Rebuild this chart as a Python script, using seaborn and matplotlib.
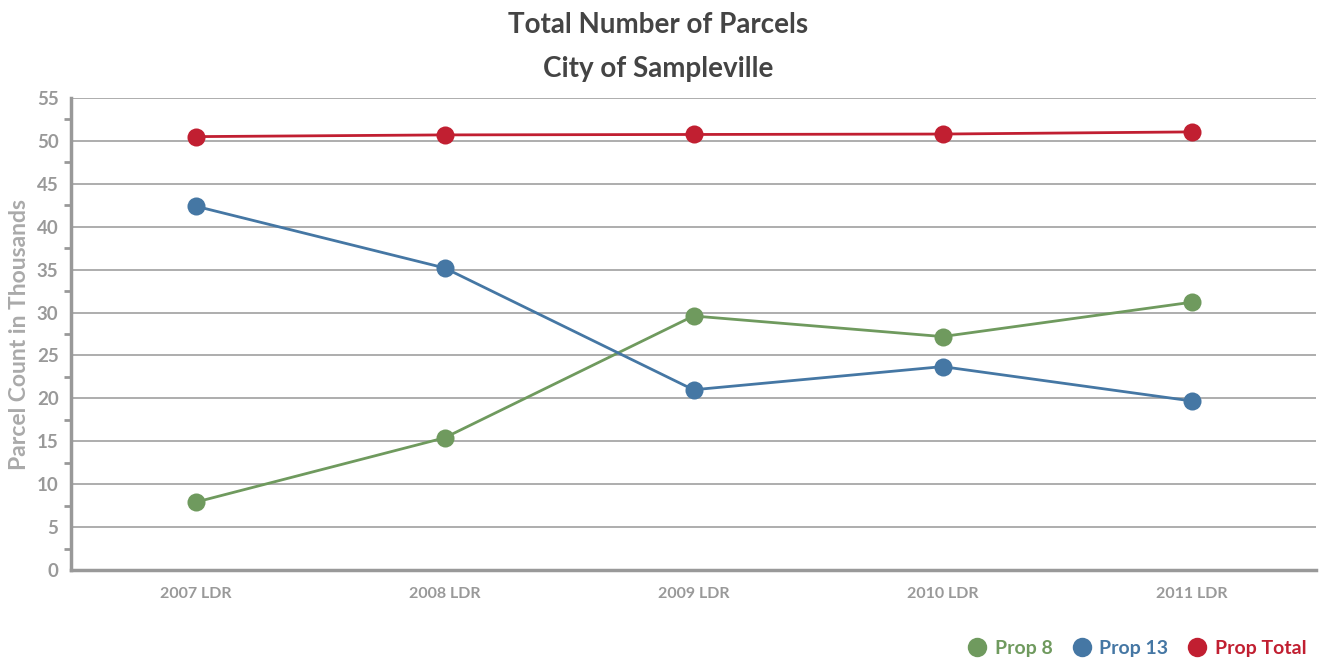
import matplotlib
matplotlib.use("Agg")
import matplotlib.pyplot as plt
from matplotlib.lines import Line2D
from matplotlib.ticker import MultipleLocator
import seaborn as sns
import pandas as pd

years = ["2007 LDR", "2008 LDR", "2009 LDR", "2010 LDR", "2011 LDR"]
prop_8 = [7.9, 15.4, 29.6, 27.2, 31.2]
prop_13 = [42.4, 35.2, 21.0, 23.7, 19.7]
prop_total = [50.5, 50.7, 50.75, 50.8, 51.05]

series_names = ["Prop 8", "Prop 13", "Prop Total"]
colors = ["#6f9a5e", "#4577a4", "#c11f31"]

rows = []
for name, vals in zip(series_names, [prop_8, prop_13, prop_total]):
    for i, v in enumerate(vals):
        rows.append({"pos": i, "year": years[i], "series": name, "value": v})
df = pd.DataFrame(rows)

sns.set_style("white")
plt.rcParams["font.family"] = ["Lato", "DejaVu Sans"]

grey = "#999999"
fig = plt.figure(figsize=(13.24, 6.58), dpi=100)
ax = fig.add_axes([71 / 1324, 88 / 658, 1245 / 1324, 472 / 658])

sns.lineplot(data=df, x="pos", y="value", hue="series", palette=colors,
             marker="o", markersize=13, markeredgewidth=0, linewidth=2,
             legend=False, ax=ax, zorder=3)

ax.set_xlim(-0.5, 4.5)
ax.set_ylim(0, 55)
ax.set_xticks(range(len(years)))
ax.set_xticklabels(years, fontsize=11.5, color=grey, fontweight="bold")
ax.yaxis.set_major_locator(MultipleLocator(5))
ax.yaxis.set_minor_locator(MultipleLocator(2.5))
ax.tick_params(axis="y", which="major", length=8, width=2, color=grey,
               labelsize=13.5, labelcolor=grey, pad=1)
ax.tick_params(axis="y", which="minor", length=5, width=2, color=grey, left=True)
ax.tick_params(axis="x", length=8, width=2, color=grey, pad=4)
for lbl in ax.get_yticklabels():
    lbl.set_fontweight("bold")
ax.grid(axis="y", color="#a0a0a0", linewidth=1.2, zorder=0)
ax.set_axisbelow(True)
for side in ["top", "right"]:
    ax.spines[side].set_visible(False)
for side in ["left", "bottom"]:
    ax.spines[side].set_color(grey)
    ax.spines[side].set_linewidth(2.5)

ax.set_xlabel("")
ax.set_ylabel("Parcel Count in Thousands", fontsize=16.5, color="#aaaaaa",
              fontweight="bold", labelpad=5)

fig.text(0.497, 0.962, "Total Number of Parcels", ha="center", va="center",
         fontsize=20, fontweight="bold", color="#444444")
fig.text(0.497, 0.895, "City of Sampleville", ha="center", va="center",
         fontsize=20, fontweight="bold", color="#444444")

handles = [Line2D([], [], linestyle="none", marker="o", markersize=14,
                  markerfacecolor=c, markeredgewidth=0) for c in colors]
leg = fig.legend(handles, series_names, loc="lower right",
                 bbox_to_anchor=(1.0, -0.025), ncol=3, frameon=False,
                 fontsize=14, handletextpad=-0.1, columnspacing=0.5,
                 labelcolor=colors)
for t in leg.get_texts():
    t.set_fontweight("bold")

fig.savefig("out.png", dpi=100)
